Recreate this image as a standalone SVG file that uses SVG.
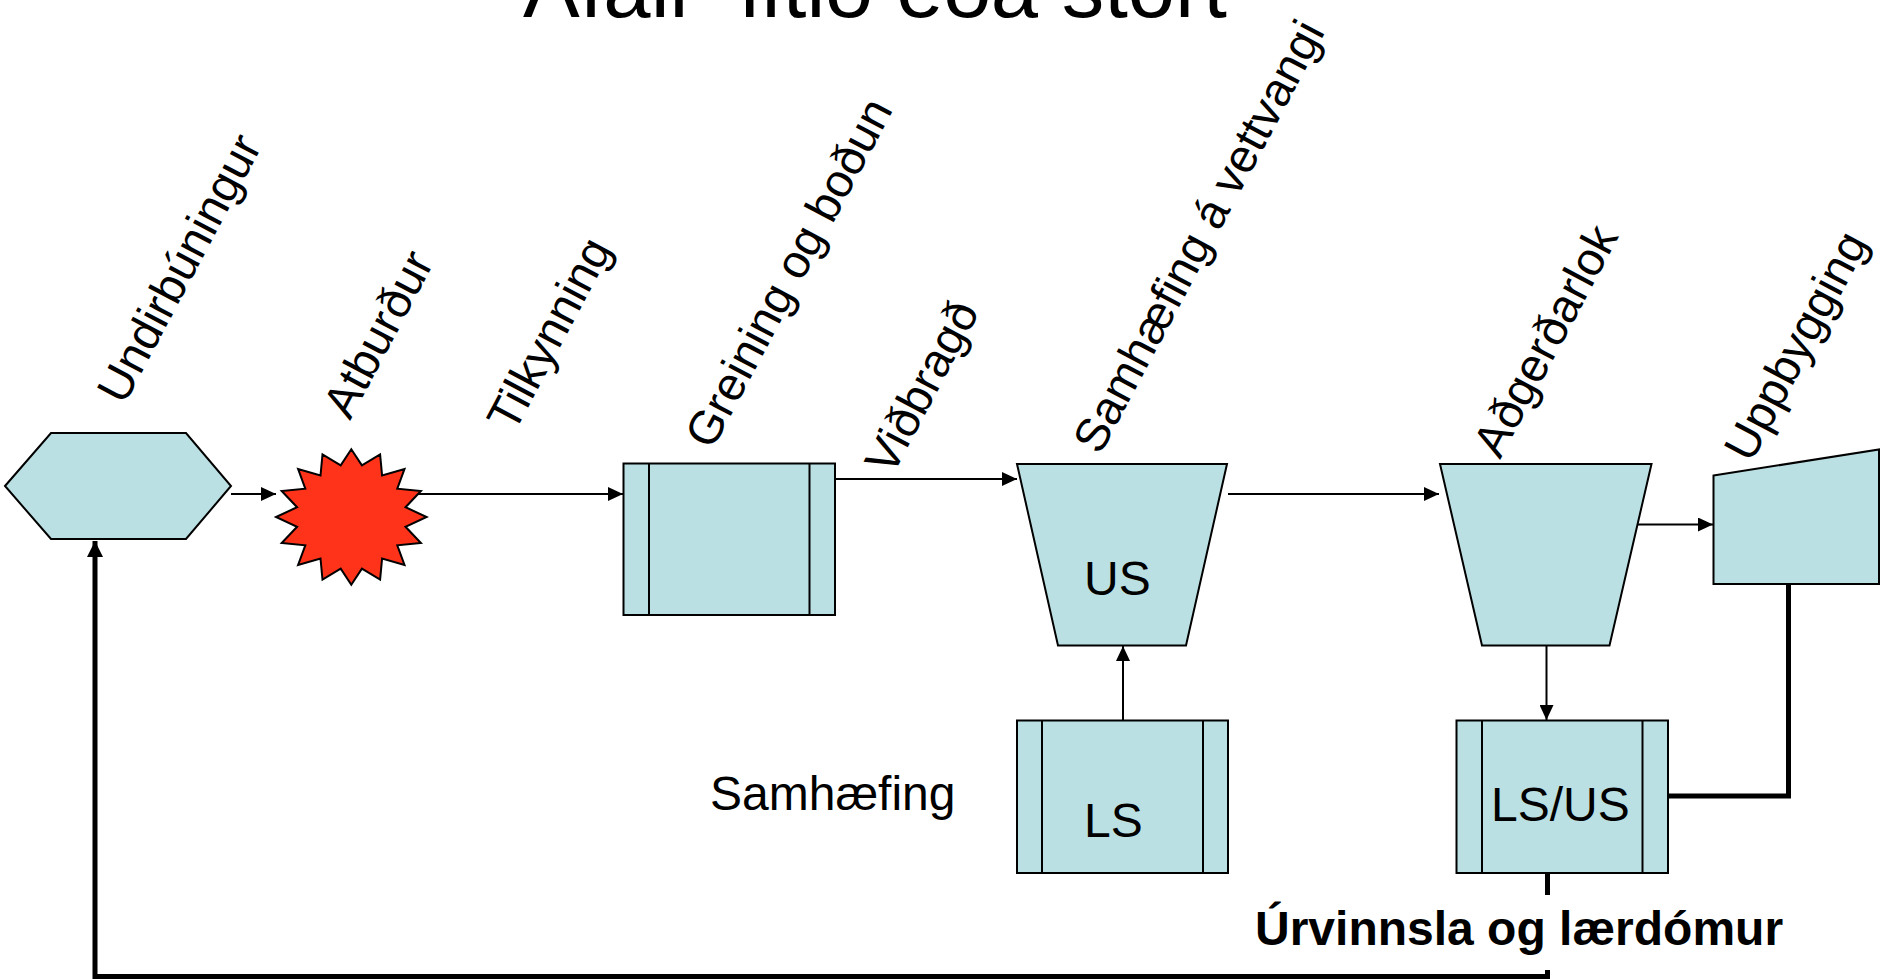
<svg xmlns="http://www.w3.org/2000/svg" width="1882" height="979" viewBox="0 0 1882 979">
<style>
  .shape { fill: #BBE0E3; stroke: #000; stroke-width: 2; }
  .star { fill: #FF331A; stroke: #000; stroke-width: 2; }
  .inner { fill: none; stroke: #000; stroke-width: 2; }
  .conn { fill: none; stroke: #000; stroke-width: 2; }
  .thick { fill: none; stroke: #000; stroke-width: 5; }
  .lbl { font-family: "Liberation Sans", Arial, sans-serif; font-size: 48px; fill: #000; }
  .rot { font-family: "Liberation Sans", Arial, sans-serif; font-size: 47px; fill: #000; }
  .title { font-family: "Liberation Sans", Arial, sans-serif; font-size: 85px; fill: #000; }
  .bold { font-family: "Liberation Sans", Arial, sans-serif; font-size: 48px; font-weight: bold; fill: #000; }
</style>
<defs>
  <marker id="arr" markerUnits="userSpaceOnUse" markerWidth="16" markerHeight="14" refX="15" refY="7" orient="auto">
    <path d="M0,0 L15,7 L0,14 z" fill="#000"/>
  </marker>
  <marker id="arrBig" markerUnits="userSpaceOnUse" markerWidth="17" markerHeight="17" refX="16" refY="8" orient="auto">
    <path d="M0,0 L16,8 L0,16 z" fill="#000"/>
  </marker>
</defs>
<rect width="1882" height="979" fill="#fff"/>

<text class="title" x="875" y="17" text-anchor="middle">Áfall- lítið eða stórt</text>

<g id="connectors">
  <path class="conn" d="M231,494 H276" marker-end="url(#arr)"/>
  <path class="conn" d="M411,494 H623" marker-end="url(#arr)"/>
  <path class="conn" d="M835,479 H1017" marker-end="url(#arr)"/>
  <path class="conn" d="M1228,494 H1439" marker-end="url(#arr)"/>
  <path class="conn" d="M1638,524.5 H1713" marker-end="url(#arr)"/>
  <path class="conn" d="M1546.5,645 V720" marker-end="url(#arr)"/>
  <path class="conn" d="M1123,720.5 V646" marker-end="url(#arr)"/>
  <path class="thick" d="M1788.5,584 V796 H1668"/>
  <path class="thick" d="M1547.5,873 V895"/>
  <path class="thick" d="M1547.5,970 V976.5 H95 V541" marker-end="url(#arrBig)"/>
</g>

<g id="undirbuningur">
  <polygon class="shape" points="5,486 51,433 186,433 231,486 186,539 51,539"/>
  <text class="rot" transform="translate(124,406) rotate(-62)">Undirbúningur</text>
</g>

<g id="atburdur">
  <polygon class="star" points="351.3,449.2 361.9,465.3 380.1,454.4 382.1,475.5 404.5,469.1 397.3,488.7 420.9,491.0 405.5,507.2 426.6,517 405.5,526.8 420.9,543.0 397.3,545.3 404.5,564.9 382.1,558.5 380.1,579.6 361.9,568.7 351.3,584.8 340.7,568.7 322.5,579.6 320.5,558.5 298.1,564.9 305.3,545.3 281.7,543.0 297.1,526.8 276,517 297.1,507.2 281.7,491.0 305.3,488.7 298.1,469.1 320.5,475.5 322.5,454.4 340.7,465.3"/>
  <text class="rot" transform="translate(350,421) rotate(-62)">Atburður</text>
</g>

<g id="tilkynning">
  <text class="rot" transform="translate(514,434) rotate(-62)">Tilkynning</text>
</g>

<g id="greining">
  <rect class="shape" x="623.5" y="463.5" width="211.5" height="151.5"/>
  <line class="inner" x1="649" y1="463.5" x2="649" y2="615"/>
  <line class="inner" x1="809.5" y1="463.5" x2="809.5" y2="615"/>
  <text class="rot" transform="translate(712,451) rotate(-62)">Greining og boðun</text>
</g>

<g id="vidbragd">
  <text class="rot" transform="translate(892,477) rotate(-62)">Viðbragð</text>
</g>

<g id="us">
  <polygon class="shape" points="1017,464 1227,464 1186,645.5 1058,645.5"/>
  <text class="lbl" x="1084" y="595">US</text>
  <text class="rot" transform="translate(1100,456) rotate(-62)">Samhæfing á vettvangi</text>
</g>

<g id="ls">
  <rect class="shape" x="1017" y="720.5" width="211" height="152.5"/>
  <line class="inner" x1="1042" y1="720.5" x2="1042" y2="873"/>
  <line class="inner" x1="1203" y1="720.5" x2="1203" y2="873"/>
  <text class="lbl" x="1084" y="837">LS</text>
</g>

<g id="samhaefing">
  <text class="lbl" x="710" y="810">Samhæfing</text>
</g>

<g id="adgerdarlok">
  <polygon class="shape" points="1440,464 1651.5,464 1609.5,645.5 1482,645.5"/>
  <text class="rot" transform="translate(1500,460) rotate(-62)">Aðgerðarlok</text>
</g>

<g id="lsus">
  <rect class="shape" x="1456.5" y="720.5" width="211.5" height="152.5"/>
  <line class="inner" x1="1482" y1="720.5" x2="1482" y2="873"/>
  <line class="inner" x1="1642.5" y1="720.5" x2="1642.5" y2="873"/>
  <text class="lbl" x="1491" y="821">LS/US</text>
</g>

<g id="uppbygging">
  <polygon class="shape" points="1713.5,475.5 1879,449.5 1879,584 1713.5,584"/>
  <text class="rot" transform="translate(1751,464) rotate(-62)">Uppbygging</text>
</g>

<g id="urvinnsla">
  <text class="bold" x="1255" y="945">Úrvinnsla og lærdómur</text>
</g>
</svg>
